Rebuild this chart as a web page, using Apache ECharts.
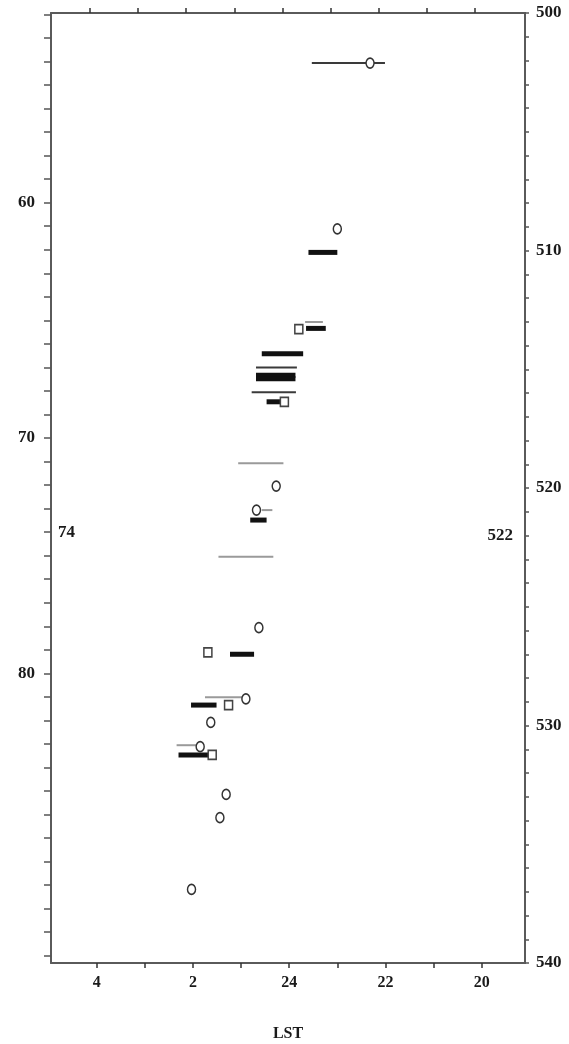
<!DOCTYPE html>
<html lang="en">
<head>
    <meta charset="UTF-8">
    <title>LST chart</title>
    <script src="https://cdn.jsdelivr.net/npm/echarts@6/dist/echarts.min.js"></script>
    <style>
        body { margin: 0; background: #fff; }
        #main { width: 569px; height: 1044px; }
    </style>
</head>
<body>
<div id="main"></div>
<script>
    // x values are hours, continuing past midnight (25 = 1 LST)
    var bottomTicks = [20, 21, 22, 23, 24, 25, 26, 27, 28];
    var bottomLabels = [20, 22, 24, 26, 28];
    var topTicks = [20.14, 21.14, 22.14, 23.14, 24.14, 25.14, 26.14, 27.14, 28.14];
    var leftLabels = [60, 70, 80];
    var leftInner = [74];
    var rightLabels = [500, 510, 520, 530, 540];
    var rightInner = [522];

    // thick black bars
    var thickDepth = [510.08, 513.28, 514.35, 515.25, 515.40, 516.37, 521.35, 527.00, 529.14, 531.24];
    var thickFrom  = [23.60, 23.65, 24.57, 24.69, 24.69, 24.47, 24.81, 25.23, 26.04, 26.30];
    var thickTo    = [23.00, 23.24, 23.71, 23.87, 23.87, 24.16, 24.47, 24.73, 25.51, 25.61];

    // thin dark lines
    var thinDepth = [502.11, 514.93, 515.97];
    var thinFrom  = [23.53, 24.69, 24.78];
    var thinTo    = [22.01, 23.84, 23.86];

    // thin grey lines
    var greyDepth = [513.01, 518.96, 520.93, 522.89, 528.81, 530.83];
    var greyFrom  = [23.67, 25.06, 24.57, 25.47, 25.75, 26.34];
    var greyTo    = [23.30, 24.12, 24.35, 24.33, 24.92, 25.85];

    // open circles
    var circleX = [22.32, 23.00, 24.27, 24.68, 24.63, 24.90, 25.63, 25.85, 25.31, 25.44, 26.03];
    var circleY = [502.11, 509.09, 519.92, 520.93, 525.88, 528.88, 529.87, 530.89, 532.90, 533.88, 536.90];

    // open squares
    var squareX = [23.80, 24.10, 25.69, 25.26, 25.60];
    var squareY = [513.31, 516.37, 526.92, 529.14, 531.24];

    var chart = echarts.init(document.getElementById('main'));

    var lineCol = '#5a5a5a';
    var font = { fontFamily: 'Liberation Serif', fontWeight: 'bold', color: '#1a1a1a' };

    function seg(ys, from, to, color, width) {
        return {
            type: 'custom',
            xAxisIndex: 0,
            yAxisIndex: 2,
            data: ys.map(function (y, i) { return [from[i], to[i], y]; }),
            encode: { x: [0, 1], y: 2 },
            renderItem: function (params, api) {
                var a = api.coord([api.value(0), api.value(2)]);
                var b = api.coord([api.value(1), api.value(2)]);
                return {
                    type: 'line',
                    shape: { x1: a[0], y1: a[1], x2: b[0], y2: b[1] },
                    style: { stroke: color, lineWidth: width }
                };
            },
            silent: true
        };
    }

    function hourLabel(v) {
        return v > 24 ? String(v - 24) : String(v);
    }

    var xRange = { min: 19.1, max: 28.95, inverse: true };
    var leftRange = { min: 51.94, max: 92.31, inverse: true };
    var rightRange = { min: 500, max: 540, inverse: true };

    var option = {
        animation: false,
        grid: { left: 51, right: 44, top: 13, bottom: 81, outerBoundsMode: 'none' },
        xAxis: [
            Object.assign({
                type: 'value', position: 'bottom',
                name: 'LST', nameLocation: 'middle', nameGap: 63,
                nameTextStyle: Object.assign({ fontSize: 16 }, font),
                axisLine: { lineStyle: { color: lineCol, width: 2 } },
                axisTick: { customValues: bottomTicks, length: 5, lineStyle: { color: '#333', width: 1.5 } },
                axisLabel: Object.assign({ customValues: bottomLabels, fontSize: 16, margin: 12, formatter: hourLabel }, font),
                splitLine: { show: false }
            }, xRange),
            Object.assign({
                type: 'value', position: 'top',
                axisLine: { lineStyle: { color: lineCol, width: 2 } },
                axisTick: { customValues: topTicks, length: 5, lineStyle: { color: '#333', width: 1.5 } },
                axisLabel: { show: false },
                splitLine: { show: false }
            }, xRange)
        ],
        yAxis: [
            Object.assign({
                type: 'value', position: 'left',
                axisLine: { show: true, lineStyle: { color: lineCol, width: 2 } },
                axisTick: { show: true, customValues: Array.from({ length: 41 }, function (_, i) { return 52 + i; }), length: 7, lineStyle: { color: '#555', width: 1.5 } },
                axisLabel: Object.assign({ customValues: leftLabels, fontSize: 17, margin: 16 }, font),
                splitLine: { show: false }
            }, leftRange),
            Object.assign({
                type: 'value', position: 'left',
                axisLine: { show: false },
                axisTick: { show: false },
                axisLabel: Object.assign({ customValues: leftInner, inside: true, fontSize: 17, margin: 7 }, font),
                splitLine: { show: false }
            }, leftRange),
            Object.assign({
                type: 'value', position: 'right', interval: 1,
                axisLine: { show: true, lineStyle: { color: lineCol, width: 2 } },
                axisTick: { show: true, length: 4, lineStyle: { color: '#555', width: 1.5 } },
                axisLabel: Object.assign({ customValues: rightLabels, fontSize: 17, margin: 11 }, font),
                splitLine: { show: false }
            }, rightRange),
            Object.assign({
                type: 'value', position: 'right',
                axisLine: { show: false },
                axisTick: { show: false },
                axisLabel: Object.assign({ customValues: rightInner, inside: true, fontSize: 17, margin: 12 }, font),
                splitLine: { show: false }
            }, rightRange)
        ],
        series: [
            seg(greyDepth, greyFrom, greyTo, '#9a9a9a', 2),
            seg(thinDepth, thinFrom, thinTo, '#3a3a3a', 2),
            seg(thickDepth, thickFrom, thickTo, '#111', 5),
            {
                type: 'scatter', xAxisIndex: 0, yAxisIndex: 2,
                symbol: 'circle', symbolSize: [8, 10],
                itemStyle: { color: '#fff', borderColor: '#333', borderWidth: 1.6, opacity: 1 },
                data: circleX.map(function (x, i) { return [x, circleY[i]]; }),
                silent: true
            },
            {
                type: 'scatter', xAxisIndex: 0, yAxisIndex: 2,
                symbol: 'rect', symbolSize: [8, 9],
                itemStyle: { color: '#fff', borderColor: '#444', borderWidth: 1.6, opacity: 1 },
                data: squareX.map(function (x, i) { return [x, squareY[i]]; }),
                silent: true
            }
        ]
    };

    chart.setOption(option);
</script>
</body>
</html>
